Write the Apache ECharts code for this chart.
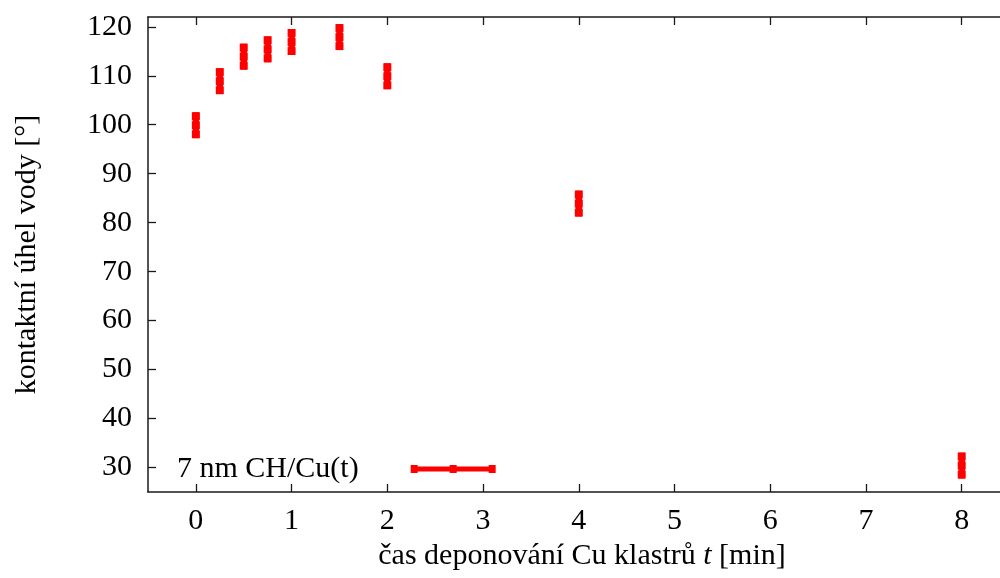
<!DOCTYPE html>
<html>
<head>
<meta charset="utf-8">
<script src="https://cdn.jsdelivr.net/npm/echarts@6/dist/echarts.min.js"></script>
<style>
html,body{margin:0;padding:0;background:#fff;}
#c{width:1000px;height:578px;}
</style>
</head>
<body>
<div id="c"></div>
<script>
// data
const times = [0, 0.25, 0.5, 0.75, 1, 1.5, 2, 4, 8];
const angles = [99.9, 108.9, 113.9, 115.4, 116.9, 117.9, 109.9, 83.9, 30.4];
const errors = [2.65, 2.65, 2.65, 2.65, 2.65, 2.65, 2.65, 2.65, 2.65];
const xTicks = [0, 1, 2, 3, 4, 5, 6, 7, 8];
const yTicks = [30, 40, 50, 60, 70, 80, 90, 100, 110, 120];
const seriesName = '7 nm CH/Cu(t)';

const FONT = 'Liberation Serif';
const FS = 30;
const RED = '#ff0000';
const AX = '#1a1a1a';

const data = times.map((t, i) => [t, angles[i], errors[i]]);

const chart = echarts.init(document.getElementById('c'), null, {renderer: 'canvas'});

function renderBar(params, api) {
  const x = api.value(0), y = api.value(1), e = api.value(2);
  const top = api.coord([x, y + e]);
  const bot = api.coord([x, y - e]);
  const mid = api.coord([x, y]);
  const h = bot[1] - top[1];
  const cap = h * 0.3;
  const wide = 8, narrow = 6.5;
  const style = {fill: RED};
  return {
    type: 'group',
    children: [
      {type: 'rect', shape: {x: top[0] - narrow / 2, y: top[1], width: narrow, height: h}, style},
      {type: 'rect', shape: {x: top[0] - wide / 2, y: top[1], width: wide, height: cap}, style},
      {type: 'rect', shape: {x: mid[0] - wide / 2, y: mid[1] - cap / 2, width: wide, height: cap}, style},
      {type: 'rect', shape: {x: bot[0] - wide / 2, y: bot[1] - cap, width: wide, height: cap}, style}
    ]
  };
}

const legendIcon = 'path://M0,1.4H85V6.6H0Z M0,0H7V8H0Z M39,0H46V8H39Z M78,0H85V8H78Z';

const axisCommon = {
  type: 'value',
  axisLine: {show: true, onZero: false, lineStyle: {color: AX, width: 1.5}},
  axisTick: {show: true, inside: true, length: 8, lineStyle: {color: AX, width: 1.3}},
  splitLine: {show: false},
};

chart.setOption({
  animation: false,
  backgroundColor: '#ffffff',
  grid: {left: 148, top: 17, right: 0, bottom: 86, containLabel: false},
  legend: {
    show: true,
    data: [{name: seriesName, icon: legendIcon}],
    left: 177,
    top: 454,
    padding: 0,
    align: 'right',
    itemWidth: 85,
    itemHeight: 8,
    selectedMode: false,
    textStyle: {fontFamily: FONT, fontSize: FS, color: '#000', lineHeight: 30, padding: [0, 47, 0, 0]}
  },
  xAxis: [
    Object.assign({}, axisCommon, {
      position: 'bottom',
      min: -0.5, max: 8.4,
      axisTick: Object.assign({}, axisCommon.axisTick, {customValues: xTicks}),
      axisLabel: {customValues: xTicks, margin: 14, fontFamily: FONT, fontSize: FS, color: '#000'},
      name: '{a|čas deponování Cu klastrů }{i|t}{a| [min]}',
      nameLocation: 'middle',
      nameGap: 49,
      nameTextStyle: {
        padding: [0, 0, 0, 16],
        rich: {
          a: {fontFamily: FONT, fontSize: FS, color: '#000'},
          i: {fontFamily: FONT, fontSize: FS, fontStyle: 'italic', color: '#000'}
        }
      }
    }),
    Object.assign({}, axisCommon, {
      position: 'top',
      min: -0.5, max: 8.4,
      axisTick: Object.assign({}, axisCommon.axisTick, {customValues: xTicks}),
      axisLabel: {show: false}
    })
  ],
  yAxis: [
    Object.assign({}, axisCommon, {
      position: 'left',
      min: 25, max: 122,
      axisTick: Object.assign({}, axisCommon.axisTick, {customValues: yTicks}),
      axisLabel: {customValues: yTicks, margin: 16, fontFamily: FONT, fontSize: FS, color: '#000'},
      name: 'kontaktní úhel vody [°]',
      nameLocation: 'middle',
      nameGap: 106,
      nameRotate: 90,
      nameTextStyle: {fontFamily: FONT, fontSize: FS, color: '#000'}
    })
  ],
  series: [{
    name: seriesName,
    type: 'custom',
    xAxisIndex: 0,
    yAxisIndex: 0,
    itemStyle: {color: RED},
    renderItem: renderBar,
    encode: {x: 0, y: 1},
    data: data
  }]
});
</script>
</body>
</html>
